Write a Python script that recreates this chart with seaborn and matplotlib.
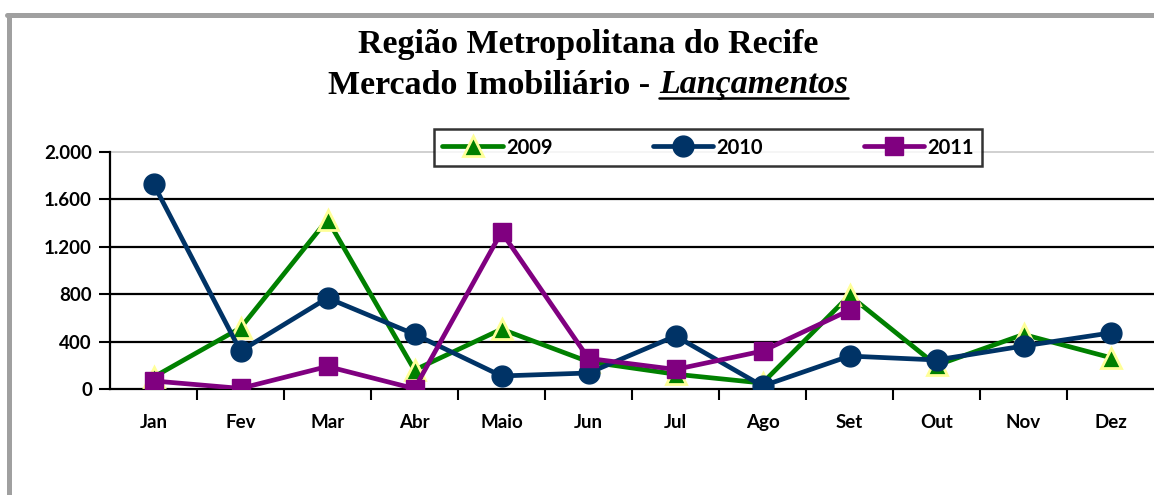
import matplotlib

matplotlib.use("Agg")

import matplotlib.pyplot as plt
import numpy as np
import pandas as pd
import seaborn as sns
from matplotlib.lines import Line2D
from matplotlib.ticker import FixedLocator, FuncFormatter

months = ["Jan", "Fev", "Mar", "Abr", "Maio", "Jun", "Jul", "Ago", "Set", "Out", "Nov", "Dez"]
v2009 = [100, 515, 1430, 160, 505, 230, 125, 50, 790, 200, 460, 265]
v2010 = [1730, 320, 768, 462, 110, 135, 447, 25, 278, 245, 363, 473]
v2011 = [68, 5, 190, 3, 1325, 258, 165, 320, 665, np.nan, np.nan, np.nan]
yticks = [0, 400, 800, 1200, 1600, 2000]

series = {
    "2009": dict(values=v2009, color="#008000", marker="^", ms=15, mec="#ffff99", mew=2),
    "2010": dict(values=v2010, color="#003366", marker="o", ms=15, mec="#003366", mew=1),
    "2011": dict(values=v2011, color="#800080", marker="s", ms=13, mec="#800080", mew=1),
}

sns.set_style("white")
plt.rcParams["font.family"] = ["Lato", "DejaVu Sans"]
plt.rcParams["text.color"] = "black"
plt.rcParams["xtick.labelcolor"] = "black"
plt.rcParams["ytick.labelcolor"] = "black"

fig = plt.figure(figsize=(11.54, 4.95), dpi=100)
ax = fig.add_axes([110 / 1154, 106 / 495, 1 - 110 / 1154, 237 / 495])

x = np.arange(len(months))
for name, s in series.items():
    df = pd.DataFrame({"x": x, "y": s["values"]}).dropna()
    sns.lineplot(data=df, x="x", y="y", ax=ax, color=s["color"], lw=3.4,
                 marker=s["marker"], markersize=s["ms"], markeredgecolor=s["mec"],
                 markeredgewidth=s["mew"], label=name, zorder=3)

ax.set_xlim(-0.5, 11.5)
ax.set_ylim(0, 2000)
ax.set_xlabel("")
ax.set_ylabel("")
ax.set_xticks(x)
ax.set_xticklabels(months, fontsize=13.5, fontweight="bold")
ax.xaxis.set_minor_locator(FixedLocator(np.arange(0.5, 11, 1)))
ax.tick_params(axis="x", which="major", length=0, pad=18)
ax.tick_params(axis="x", which="minor", length=8, width=1.5, direction="out", color="black", bottom=True)
ax.set_yticks(yticks)
ax.yaxis.set_major_formatter(FuncFormatter(lambda v, p: f"{int(v):,}".replace(",", ".")))
ax.tick_params(axis="y", length=8, width=1.5, direction="out", color="black", left=True, pad=5,
               labelsize=13.5)
for lab in ax.get_yticklabels():
    lab.set_fontweight("bold")

for v in yticks[1:-1]:
    ax.axhline(v, color="black", lw=1.6, zorder=1)
ax.axhline(2000, color="#c8c8c8", lw=1.2, zorder=1, clip_on=False)
for side in ["top", "right"]:
    ax.spines[side].set_visible(False)
for side in ["left", "bottom"]:
    ax.spines[side].set_color("black")
    ax.spines[side].set_linewidth(1.6)

leg = ax.legend(loc="center", bbox_to_anchor=(708 / 1154, 1 - 147.5 / 495),
                bbox_transform=fig.transFigure, ncol=3, frameon=True, fancybox=False,
                handlelength=3.0, handletextpad=0.15, columnspacing=5.0, borderpad=0.4,
                borderaxespad=0, prop={"weight": "bold", "size": 14.5})
leg.get_frame().set_edgecolor("black")
leg.get_frame().set_linewidth(1.8)

# titulo
tfont = dict(family="Liberation Serif", fontweight="bold", fontsize=24.5, color="black")
fig.text(588 / 1154, 1 - 45 / 495, "Região Metropolitana do Recife", ha="center", va="center", **tfont)
renderer = fig.canvas.get_renderer()
y2 = 1 - 85 / 495
t_a = fig.text(0, y2, "Mercado Imobiliário - ", ha="left", va="center", **tfont)
t_b = fig.text(0, y2, "Lançamentos", ha="left", va="center", style="italic", **tfont)
wa = t_a.get_window_extent(renderer).width
wb = t_b.get_window_extent(renderer).width
x0 = 588 - (wa + wb) / 2
t_a.set_x(x0 / 1154)
t_b.set_x((x0 + wa) / 1154)
bb = t_b.get_window_extent(renderer)
fig.add_artist(Line2D([bb.x0 / 1154, bb.x1 / 1154], [(bb.y0 + 3) / 495] * 2,
                      transform=fig.transFigure, color="black", lw=1.8))

# moldura
fig.add_artist(Line2D([9 / 1154, 9 / 1154], [0, 1 - 14.5 / 495], transform=fig.transFigure,
                      color="#a0a0a0", lw=3.6))
fig.add_artist(Line2D([7 / 1154, 1], [1 - 14.5 / 495] * 2, transform=fig.transFigure,
                      color="#a0a0a0", lw=3.6))

fig.savefig("out.png", dpi=100)
